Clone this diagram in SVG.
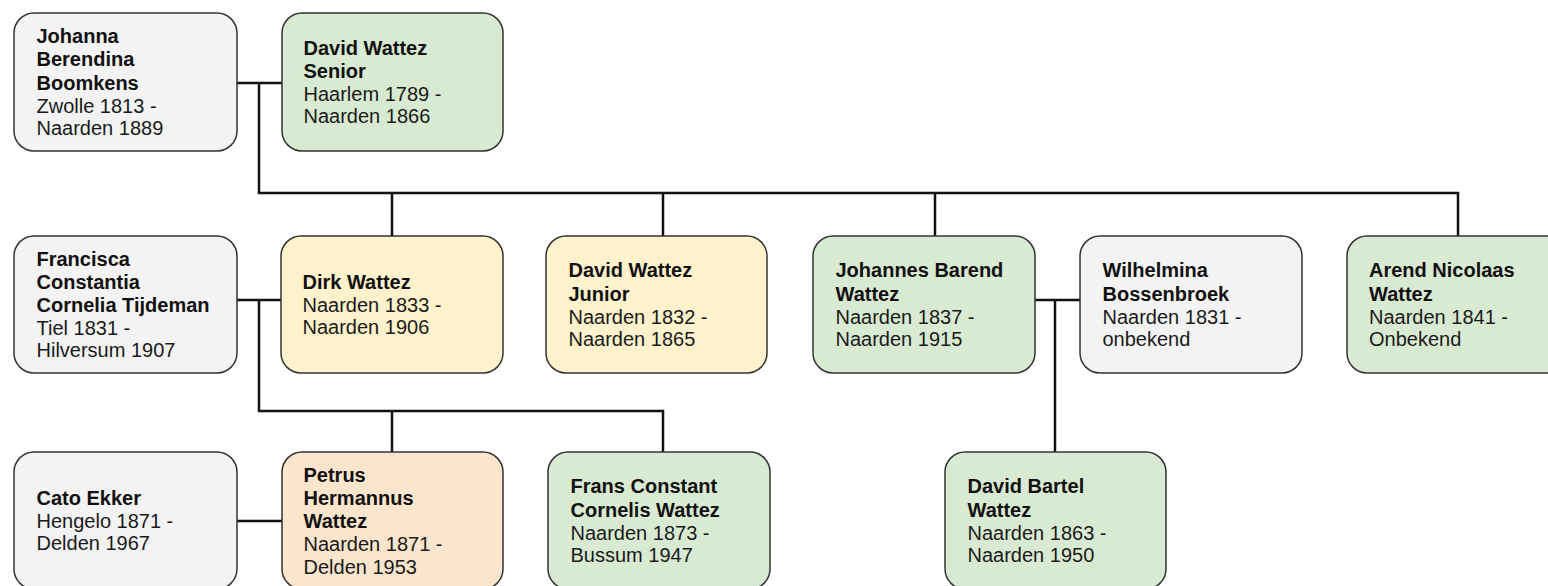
<svg xmlns="http://www.w3.org/2000/svg" width="1548" height="586" viewBox="0 0 1548 586">
<style>
.box{stroke:#333;stroke-width:1.5}
.g{fill:#f3f3f3}.gr{fill:#d9ead3}.y{fill:#fff2cc}.o{fill:#fce5cd}
text{font-family:"Liberation Sans",Arial,sans-serif;font-size:20px;fill:#1a1a1a}
.b{font-weight:bold;fill:#111}
.c{fill:none;stroke:#111;stroke-width:2.5}
</style>
<rect width="1548" height="586" fill="#fff"/>
<g id="connectors">
<path class="c" d="M237 83H282M259 83V193H1458V236M392 193V236M663 193V236M935 193V236"/>
<path class="c" d="M237 300H281M259 300V411H663V452M392 411V452"/>
<path class="c" d="M1035 300H1080M1055 300V452"/>
<path class="c" d="M237 521H282"/>
</g>
<g id="johanna">
<rect class="box g" x="14" y="13" width="223" height="138" rx="20"/>
<text><tspan class="b" x="36.5" y="43">Johanna</tspan><tspan class="b" x="36.5" y="66.3">Berendina</tspan><tspan class="b" x="36.5" y="89.6">Boomkens</tspan><tspan x="36.5" y="112.9">Zwolle 1813 -</tspan><tspan x="36.5" y="134.9">Naarden 1889</tspan></text>
</g>
<g id="david-senior">
<rect class="box gr" x="282" y="13" width="221" height="138" rx="20"/>
<text><tspan class="b" x="303.5" y="54.7">David Wattez</tspan><tspan class="b" x="303.5" y="78">Senior</tspan><tspan x="303.5" y="101.3">Haarlem 1789 -</tspan><tspan x="303.5" y="123.3">Naarden 1866</tspan></text>
</g>
<g id="francisca">
<rect class="box g" x="14" y="236" width="223" height="137" rx="20"/>
<text><tspan class="b" x="36.5" y="265.5">Francisca</tspan><tspan class="b" x="36.5" y="288.8">Constantia</tspan><tspan class="b" x="36.5" y="312.1">Cornelia Tijdeman</tspan><tspan x="36.5" y="335.4">Tiel 1831 -</tspan><tspan x="36.5" y="357.4">Hilversum 1907</tspan></text>
</g>
<g id="dirk">
<rect class="box y" x="281" y="236" width="222" height="137" rx="20"/>
<text><tspan class="b" x="302.5" y="288.9">Dirk Wattez</tspan><tspan x="302.5" y="312.2">Naarden 1833 -</tspan><tspan x="302.5" y="334.2">Naarden 1906</tspan></text>
</g>
<g id="david-junior">
<rect class="box y" x="546" y="236" width="221" height="137" rx="20"/>
<text><tspan class="b" x="568.5" y="277.2">David Wattez</tspan><tspan class="b" x="568.5" y="300.5">Junior</tspan><tspan x="568.5" y="323.8">Naarden 1832 -</tspan><tspan x="568.5" y="345.8">Naarden 1865</tspan></text>
</g>
<g id="johannes">
<rect class="box gr" x="813" y="236" width="222" height="137" rx="20"/>
<text><tspan class="b" x="835.5" y="277.2">Johannes Barend</tspan><tspan class="b" x="835.5" y="300.5">Wattez</tspan><tspan x="835.5" y="323.8">Naarden 1837 -</tspan><tspan x="835.5" y="345.8">Naarden 1915</tspan></text>
</g>
<g id="wilhelmina">
<rect class="box g" x="1080" y="236" width="222" height="137" rx="20"/>
<text><tspan class="b" x="1102.5" y="277.2">Wilhelmina</tspan><tspan class="b" x="1102.5" y="300.5">Bossenbroek</tspan><tspan x="1102.5" y="323.8">Naarden 1831 -</tspan><tspan x="1102.5" y="345.8">onbekend</tspan></text>
</g>
<g id="arend">
<rect class="box gr" x="1347" y="236" width="222" height="137" rx="20"/>
<text><tspan class="b" x="1369" y="277.2">Arend Nicolaas</tspan><tspan class="b" x="1369" y="300.5">Wattez</tspan><tspan x="1369" y="323.8">Naarden 1841 -</tspan><tspan x="1369" y="345.8">Onbekend</tspan></text>
</g>
<g id="cato">
<rect class="box g" x="14" y="452" width="223" height="137" rx="20"/>
<text><tspan class="b" x="36.5" y="504.9">Cato Ekker</tspan><tspan x="36.5" y="528.2">Hengelo 1871 -</tspan><tspan x="36.5" y="550.2">Delden 1967</tspan></text>
</g>
<g id="petrus">
<rect class="box o" x="282" y="452" width="221" height="137" rx="20"/>
<text><tspan class="b" x="303.5" y="481.5">Petrus</tspan><tspan class="b" x="303.5" y="504.8">Hermannus</tspan><tspan class="b" x="303.5" y="528.1">Wattez</tspan><tspan x="303.5" y="551.4">Naarden 1871 -</tspan><tspan x="303.5" y="574.4">Delden 1953</tspan></text>
</g>
<g id="frans">
<rect class="box gr" x="548" y="452" width="222" height="137" rx="20"/>
<text><tspan class="b" x="570.5" y="493.2">Frans Constant</tspan><tspan class="b" x="570.5" y="516.5">Cornelis Wattez</tspan><tspan x="570.5" y="539.8">Naarden 1873 -</tspan><tspan x="570.5" y="561.8">Bussum 1947</tspan></text>
</g>
<g id="david-bartel">
<rect class="box gr" x="945" y="452" width="221" height="137" rx="20"/>
<text><tspan class="b" x="967.5" y="493.2">David Bartel</tspan><tspan class="b" x="967.5" y="516.5">Wattez</tspan><tspan x="967.5" y="539.8">Naarden 1863 -</tspan><tspan x="967.5" y="561.8">Naarden 1950</tspan></text>
</g>
</svg>
